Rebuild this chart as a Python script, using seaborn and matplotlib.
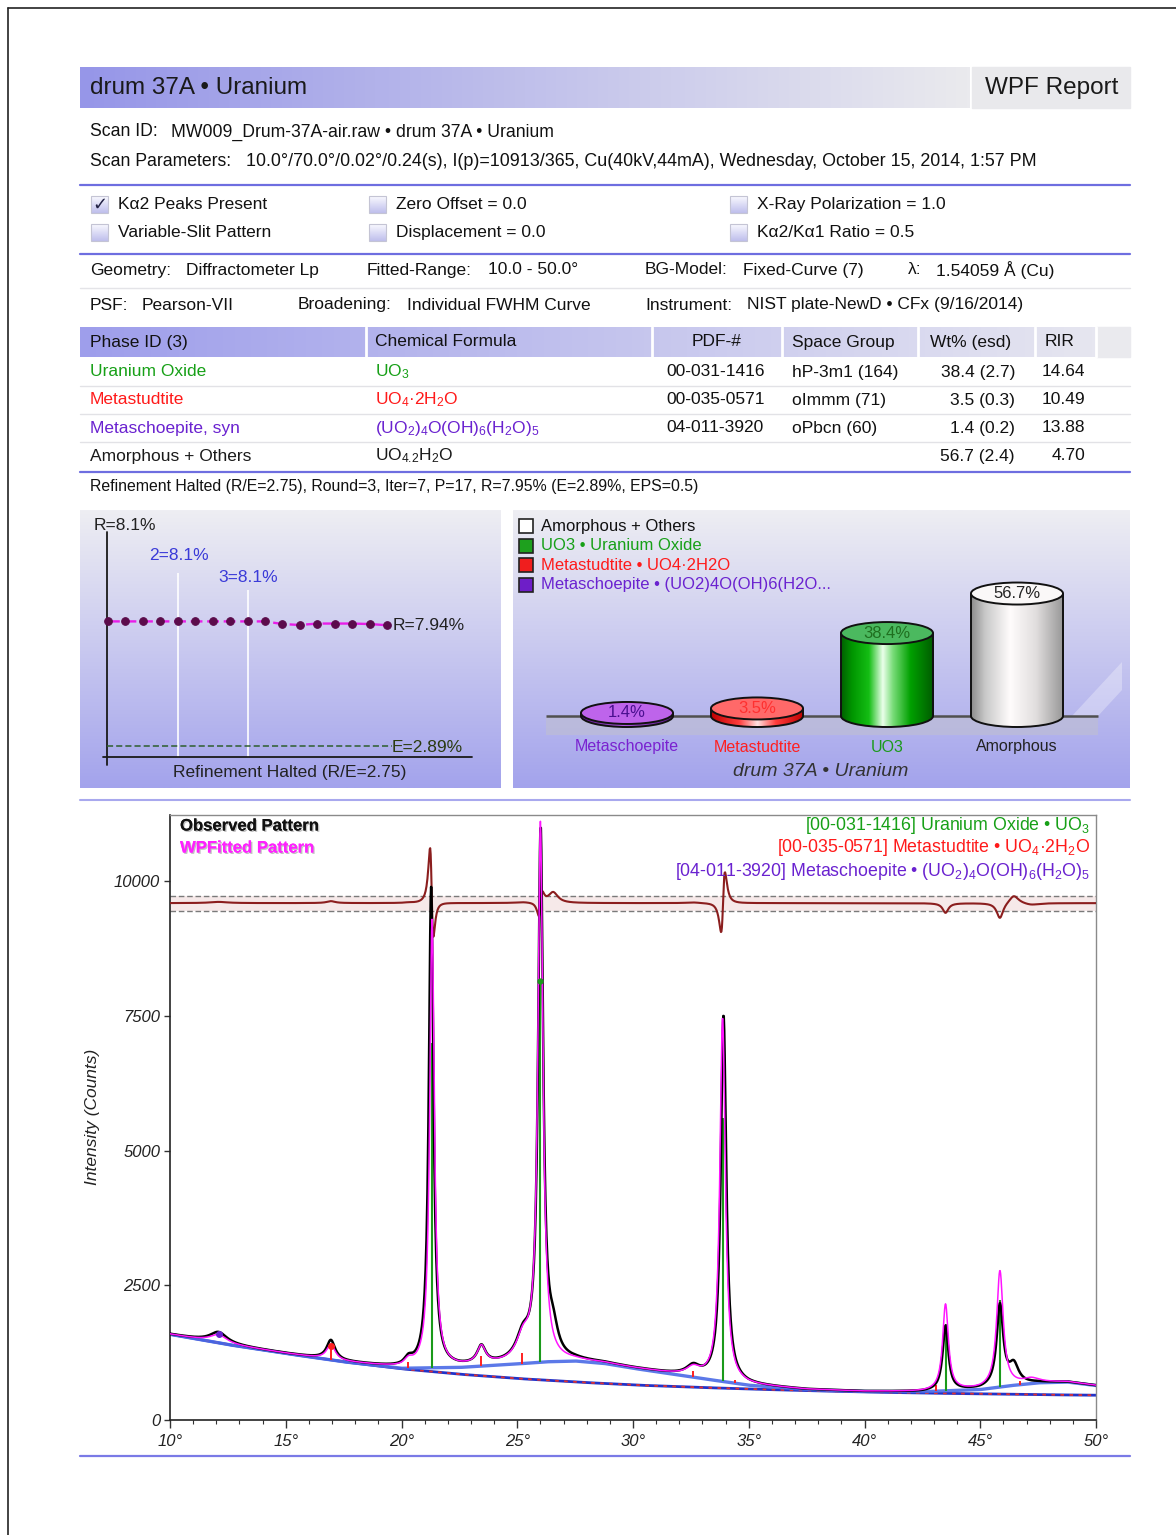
import numpy as np
import pandas as pd
import matplotlib
matplotlib.use("Agg")
import matplotlib.pyplot as plt
import seaborn as sns
from matplotlib.patches import Rectangle, Ellipse, Polygon
from matplotlib.ticker import MultipleLocator
import matplotlib.patheffects as pe

sns.set_theme(style="white")
plt.rcParams["font.family"] = ["Liberation Sans", "DejaVu Sans"]
plt.rcParams["mathtext.fontset"] = "custom"
plt.rcParams["mathtext.rm"] = "Liberation Sans"
plt.rcParams["mathtext.it"] = "Liberation Sans:italic"
plt.rcParams["mathtext.bf"] = "Liberation Sans:bold"
plt.rcParams["axes.unicode_minus"] = False

# ------------------------------------------------------------------ DATA
phase_names = ["Uranium Oxide", "Metastudtite", "Metaschoepite, syn", "Amorphous + Others"]
phase_formulas = [r"UO$_3$", r"UO$_4$·2H$_2$O", r"(UO$_2$)$_4$O(OH)$_6$(H$_2$O)$_5$", r"UO$_{4.2}$H$_2$O"]
pdf_numbers = ["00-031-1416", "00-035-0571", "04-011-3920", ""]
space_groups = ["hP-3m1 (164)", "oImmm (71)", "oPbcn (60)", ""]
wt_pct = ["38.4 (2.7)", "3.5 (0.3)", "1.4 (0.2)", "56.7 (2.4)"]
rir_values = ["14.64", "10.49", "13.88", "4.70"]
phase_colors = ["#17a017", "#ff1a1a", "#6a22d0", "#1a1a1a"]

# refinement convergence
iterations = [1, 2, 3, 4, 5, 6, 7, 8, 9, 10, 11, 12, 13, 14, 15, 16, 17]
r_values = [8.10, 8.10, 8.10, 8.10, 8.10, 8.10, 8.10, 8.10, 8.10, 8.10, 7.99, 7.95, 8.01, 8.01, 8.01, 7.99, 7.94]
round_iters = [5, 9]
round_labels = ["2=8.1%", "3=8.1%"]
e_value = 2.89

# phase wt% cylinders
bar_labels = ["Metaschoepite", "Metastudtite", "UO3", "Amorphous"]
bar_values = [1.4, 3.5, 38.4, 56.7]

# diffraction pattern
scan_step = 0.02
two_theta = np.round(np.arange(10.0, 50.0 + 1e-9, scan_step), 2)
knot_2theta = [10.0, 12.5, 15.0, 17.5, 20.0, 22.5, 25.0, 26.25, 27.5, 28.75, 30.0, 32.5, 35.0, 37.5, 40.0,
               42.5, 45.0, 46.25, 47.5, 48.75, 50.0]
bg_counts = [1590, 1400, 1235, 1080, 950, 850, 770, 738, 705, 678, 650, 610, 575, 545, 520,
             500, 485, 478, 470, 465, 460]
amorph_counts = [1590, 1400, 1235, 1080, 960, 975, 1040, 1080, 1095, 1050, 960, 800, 645, 565, 530,
                 525, 565, 635, 690, 705, 640]

fit_pos = [12.10, 16.95, 20.30, 21.32, 23.45, 25.25, 26.00, 32.60, 33.87, 43.50, 45.85, 47.20]
fit_height = [150, 280, 110, 8300, 330, 420, 9950, 150, 6750, 1600, 2150, 80]
fit_hwhm = [0.45, 0.22, 0.22, 0.12, 0.22, 0.35, 0.13, 0.35, 0.14, 0.15, 0.17, 0.40]

obs_pos = [12.10, 16.95, 20.30, 21.28, 23.45, 25.25, 26.01, 26.55, 32.60, 33.91, 43.50, 45.85, 46.45]
obs_height = [200, 360, 130, 8900, 330, 450, 9800, 450, 180, 6800, 1200, 1500, 350]
obs_hwhm = [0.45, 0.22, 0.22, 0.12, 0.22, 0.35, 0.13, 0.25, 0.35, 0.14, 0.15, 0.17, 0.25]

uo3_stick_pos = [21.32, 26.00, 33.87, 43.50, 45.85]
uo3_stick_top = [7000, 8150, 5600, 1780, 2230]
metast_stick_pos = [16.95, 20.30, 23.45, 25.20, 32.60, 34.40, 43.10, 46.70]
metast_stick_len = [260, 120, 190, 200, 110, 60, 110, 70]
metasch_stick_pos = [12.10]
metasch_stick_len = [160]

diff_offset = 9590
diff_scale = 0.45
diff_band = [9450, 9730]

y_ticks = [0, 2500, 5000, 7500, 10000]
y_tick_labels = ["0", "2500", "5000", "7500", "10000"]
x_ticks = [10, 15, 20, 25, 30, 35, 40, 45, 50]
x_tick_labels = ["10°", "15°", "20°", "25°", "30°", "35°", "40°", "45°", "50°"]


def lorentz_sum(x, pos, hgt, hw):
    out = np.zeros_like(x, dtype=float)
    for p, h, w in zip(pos, hgt, hw):
        out += h / (1.0 + ((x - p) / w) ** 2)
    return out


bg_line = np.interp(two_theta, knot_2theta, bg_counts)
amorph_line = np.interp(two_theta, knot_2theta, amorph_counts)
fit_total = amorph_line + lorentz_sum(two_theta, fit_pos, fit_height, fit_hwhm)
obs_total = amorph_line + lorentz_sum(two_theta, obs_pos, obs_height, obs_hwhm)
pattern = pd.DataFrame({
    "two_theta": two_theta,
    "observed": obs_total,
    "fitted": fit_total,
    "background": bg_line,
    "amorphous": amorph_line,
    "difference": (obs_total - fit_total) * diff_scale + diff_offset,
})

# ------------------------------------------------------------------ FIGURE
W, H = 1176, 1535
fig = plt.figure(figsize=(W / 100, H / 100), dpi=100)
fig.patch.set_facecolor("white")


def rect_px(x0, y0, x1, y1):
    return [x0 / W, 1 - y1 / H, (x1 - x0) / W, (y1 - y0) / H]


def grad_img(stops, n=256, vertical=False):
    t = np.linspace(0, 1, n)
    pos = [s[0] for s in stops]
    cols = np.array([s[1] for s in stops], float) / 255
    img = np.stack([np.interp(t, pos, cols[:, k]) for k in range(3)], axis=-1)
    return img[:, None, :] if vertical else img[None, :, :]


ax0 = fig.add_axes([0, 0, 1, 1], label="bg")
ax0.set_zorder(-10)
axT = fig.add_axes([0, 0, 1, 1], label="top")
axT.set_zorder(50)
for a in (ax0, axT):
    a.set_xlim(0, W)
    a.set_ylim(H, 0)
    a.axis("off")


def T(x, y, s, size=12.5, color="#111111", ha="left", va="center", **kw):
    return axT.text(x, y, s, fontsize=size, color=color, ha=ha, va=va, **kw)


# page frame
ax0.plot([8, W], [8, 8], color="#222222", lw=1.2)
ax0.plot([8, 8], [8, H], color="#222222", lw=1.2)

# header bar
ax0.imshow(grad_img([(0, (150, 150, 232)), (1, (234, 234, 238))]), extent=(80, 970, 108, 67),
           aspect="auto", zorder=1)
ax0.add_patch(Rectangle((972, 67), 158, 41, color=(233 / 255, 233 / 255, 236 / 255), zorder=1))
T(90, 88, "drum 37A • Uranium", size=17.5, color="#1a1a1a")
T(985, 88, "WPF Report", size=17.5, color="#1a1a1a")

T(90, 132, "Scan ID:", size=12.7)
T(171, 132, "MW009_Drum-37A-air.raw • drum 37A • Uranium", size=12.7)
T(90, 162, "Scan Parameters:", size=12.7)
T(246, 162, "10.0°/70.0°/0.02°/0.24(s), I(p)=10913/365, Cu(40kV,44mA), Wednesday, October 15, 2014, 1:57 PM",
  size=12.85)

# separator lines
for yy in (185, 254, 472):
    ax0.plot([80, 1130], [yy, yy], color="#6e6ee0", lw=1.6, zorder=2)
ax0.plot([80, 1130], [288, 288], color="#e4e4e8", lw=1.0, zorder=2)
ax0.plot([80, 1130], [800, 800], color="#a8a8ee", lw=1.5, zorder=2)
ax0.plot([80, 1130], [1456, 1456], color="#7a7ae6", lw=1.6, zorder=2)

# checkboxes
box_stops = [(0, (250, 250, 255)), (1, (190, 190, 236))]
checks = [(91, 196, True, "Kα2 Peaks Present"), (369, 196, False, "Zero Offset = 0.0"),
          (730, 196, False, "X-Ray Polarization = 1.0"), (91, 224, False, "Variable-Slit Pattern"),
          (369, 224, False, "Displacement = 0.0"), (730, 224, False, "Kα2/Kα1 Ratio = 0.5")]
for bx, by, chk, lab in checks:
    ax0.imshow(grad_img(box_stops, vertical=True), extent=(bx, bx + 17, by + 17, by), aspect="auto", zorder=3)
    ax0.add_patch(Rectangle((bx, by), 17, 17, fill=False, edgecolor="#c4c4d4", lw=0.8, zorder=4))
    if chk:
        T(bx + 8.5, by + 9, "✓", size=13, ha="center", family=["DejaVu Sans"], weight="bold", color="#222244")
    T(bx + 27, by + 8.5, lab, size=12.5)

# parameter rows
for lx, vx, lab, val in [(90, 186, "Geometry:", "Diffractometer Lp"), (367, 488, "Fitted-Range:", "10.0 - 50.0°"),
                         (645, 743, "BG-Model:", "Fixed-Curve (7)"), (908, 936, "λ:", "1.54059 Å (Cu)")]:
    T(lx, 270, lab)
    T(vx, 270, val)
for lx, vx, lab, val in [(90, 142, "PSF:", "Pearson-VII"), (298, 407, "Broadening:", "Individual FWHM Curve"),
                         (645, 747, "Instrument:", "NIST plate-NewD • CFx (9/16/2014)")]:
    T(lx, 305, lab)
    T(vx, 305, val)

# phase table
ax0.imshow(grad_img([(0, (158, 158, 235)), (1, (230, 230, 240))]), extent=(80, 1096, 357, 327),
           aspect="auto", zorder=1)
ax0.add_patch(Rectangle((1096, 327), 34, 30, color=(234 / 255, 234 / 255, 238 / 255), zorder=1))
for sx in (366, 652, 782, 918, 1035, 1096):
    ax0.plot([sx, sx], [327, 357], color="white", lw=2, zorder=2)
T(90, 342, "Phase ID (3)")
T(375, 342, "Chemical Formula")
T(717, 342, "PDF-#", ha="center")
T(792, 342, "Space Group")
T(930, 342, "Wt% (esd)")
T(1045, 342, "RIR")
row_y = [372, 400, 428, 456]
for i, ry in enumerate(row_y):
    T(90, ry, phase_names[i], color=phase_colors[i])
    T(375, ry, phase_formulas[i], color=phase_colors[i])
    T(666, ry, pdf_numbers[i])
    T(792, ry, space_groups[i])
    T(1015, ry, wt_pct[i], ha="right")
    T(1085, ry, rir_values[i], ha="right")
for sy in (386, 414, 442):
    ax0.plot([80, 1130], [sy, sy], color="#e2e2e6", lw=1.0, zorder=2)
T(90, 487, "Refinement Halted (R/E=2.75), Round=3, Iter=7, P=17, R=7.95% (E=2.89%, EPS=0.5)", size=11.4)

# ------------------------------------------------------------------ refinement panel
panel_stops = [(0, (238, 238, 243)), (1, (163, 163, 236))]
axr = fig.add_axes(rect_px(80, 510, 500, 788))
rxl = (1 + (80 - 108) / 17.44, 1 + (500 - 108) / 17.44)
ryl = (8.10 - (788 - 621.4) / 23.9, 8.10 + (621.4 - 510) / 23.9)
axr.imshow(grad_img(panel_stops, vertical=True), extent=(rxl[0], rxl[1], ryl[0], ryl[1]), aspect="auto", zorder=0)
axr.plot([0.94, 0.94], [2.09, 11.84], color="#1a1a1a", lw=1.3, zorder=2)
axr.plot([0.71, 21.9], [2.43, 2.43], color="#1a1a1a", lw=1.3, zorder=2)
for it, top in zip(round_iters, [10.125, 9.42]):
    axr.vlines(it, 2.43, top, colors="white", lw=1.2, zorder=1)
axr.hlines(e_value, 0.94, 17.28, colors="#2e5e2e", linestyles=(0, (4, 2)), lw=1.1, zorder=2)
sns.lineplot(x=iterations, y=r_values, ax=axr, color="#e81ee8", lw=1.7, linestyle=(0, (5, 2)),
             marker="o", markersize=5.5, markerfacecolor="#5b0b4b", markeredgecolor="#5b0b4b", zorder=3)
axr.set_xlim(*rxl)
axr.set_ylim(*ryl)
axr.axis("off")
T(94, 525, "R=8.1%", size=12.5, color="#222222")
T(149, 556, round_labels[0], size=12.5, color="#3a3ad8")
T(218, 577, round_labels[1], size=12.5, color="#3a3ad8")
T(393, 626, "R=7.94%", size=12.5, color="#222222")
T(392, 747, "E=2.89%", size=12.5, color="#2a3a10")
T(290, 773, "Refinement Halted (R/E=2.75)", size=12.5, ha="center", color="#222222")

# ------------------------------------------------------------------ cylinder panel
axb = fig.add_axes(rect_px(513, 510, 1130, 788))
bxl = ((513 - 627) / 130, (1130 - 627) / 130)
byl = (-(788 - 716) / 2.16, (716 - 510) / 2.16)
axb.imshow(grad_img(panel_stops, vertical=True), extent=(bxl[0], bxl[1], byl[0], byl[1]), aspect="auto", zorder=0)
sns.barplot(x=bar_labels, y=bar_values, ax=axb, width=0.708, color="white", saturation=1, errorbar=None, zorder=3)
bars = list(axb.patches)
axb.fill_between([-0.623, 3.623], -8.8, 0, color=(0.74, 0.74, 0.84), alpha=0.7, zorder=1, lw=0)
axb.add_patch(Polygon([[(1072 - 627) / 130, 0], [(1122 - 627) / 130, (716 - 662) / 2.16],
                       [(1122 - 627) / 130, (716 - 690) / 2.16], [(1098 - 627) / 130, 0]],
                      closed=True, color="white", alpha=0.3, zorder=1, lw=0))
axb.hlines(0, -0.623, 3.623, colors="#505050", lw=1.8, zorder=1.5)

body_stops = [
    [(0, (90, 20, 140)), (0.45, (175, 90, 225)), (1, (90, 20, 140))],
    [(0, (190, 0, 0)), (0.3, (255, 60, 60)), (0.5, (255, 225, 225)), (0.7, (255, 60, 60)), (1, (190, 0, 0))],
    [(0, (0, 95, 0)), (0.12, (0, 150, 0)), (0.3, (20, 190, 20)), (0.45, (235, 255, 235)), (0.56, (120, 220, 120)),
     (0.75, (0, 160, 0)), (1, (0, 90, 0))],
    [(0, (140, 140, 140)), (0.15, (200, 200, 200)), (0.42, (255, 252, 252)), (0.7, (225, 222, 222)),
     (1, (150, 150, 150))],
]
top_colors = [(190 / 255, 100 / 255, 235 / 255), (1.0, 105 / 255, 105 / 255), (75 / 255, 185 / 255, 95 / 255),
              (250 / 255, 248 / 255, 248 / 255)]
value_colors = ["#4a1090", "#ff3030", "#1f6f1f", "#222222"]
label_colors = ["#7a22d0", "#ff2020", "#1a9a1a", "#222222"]
eh = 22 / 2.16
for i, bar in enumerate(bars):
    xL, wB, h = bar.get_x(), bar.get_width(), bar.get_height()
    xc = xL + wB / 2
    bar.set_facecolor("none")
    bar.set_edgecolor("none")
    img = grad_img(body_stops[i])
    be = Ellipse((xc, 0), wB, eh, facecolor="none", edgecolor="#111111", lw=1.4, zorder=2.5)
    axb.add_patch(be)
    im1 = axb.imshow(img, extent=(xL, xL + wB, -eh / 2, max(h, 0.1)), aspect="auto", zorder=2)
    im1.set_clip_path(be)
    im2 = axb.imshow(img, extent=(xL, xL + wB, 0, max(h, 0.1)), aspect="auto", zorder=3)
    im2.set_clip_path(bar)
    axb.vlines([xL, xL + wB], 0, h, colors="#111111", lw=1.4, zorder=4)
    axb.add_patch(Ellipse((xc, h), wB, eh, facecolor=top_colors[i], edgecolor="#111111", lw=1.4, zorder=5))
    axb.text(xc, h, f"{bar_values[i]}%", ha="center", va="center", fontsize=12, color=value_colors[i], zorder=6)
    axb.text(xc, -(747 - 716) / 2.16, bar_labels[i], ha="center", va="center", fontsize=11.5,
             color=label_colors[i], zorder=6)
axb.set_xlim(*bxl)
axb.set_ylim(*byl)
axb.axis("off")
T(821, 772, "drum 37A • Uranium", size=14, ha="center", style="italic", color="#333333")

legend_items = [("Amorphous + Others", "white", "#111111"),
                ("UO3 • Uranium Oxide", (30 / 255, 160 / 255, 30 / 255), "#17a017"),
                ("Metastudtite • UO4·2H2O", (240 / 255, 30 / 255, 30 / 255), "#ff1a1a"),
                ("Metaschoepite • (UO2)4O(OH)6(H2O...", (110 / 255, 30 / 255, 200 / 255), "#6a22d0")]
for k, (lab, fc, tc) in enumerate(legend_items):
    cy = [526, 546, 565, 585][k]
    axT.add_patch(Rectangle((519, cy - 7), 14, 14, facecolor=fc, edgecolor="#222222", lw=1.2, zorder=5))
    T(541, cy, lab, size=12, color=tc)

# ------------------------------------------------------------------ main pattern
axm = fig.add_axes(rect_px(170, 815, 1096, 1420))
axm.set_facecolor("white")
axm.fill_between([10, 50], diff_band[0], diff_band[1], color="#f6e9e9", zorder=1, lw=0)
axm.hlines(diff_band, 10, 50, colors="#7a7a7a", linestyles=(0, (4, 2)), lw=1.0, zorder=2)
sns.lineplot(data=pattern, x="two_theta", y="difference", ax=axm, color="#8b1e1e", lw=1.5,
             estimator=None, sort=False, zorder=3)
sns.lineplot(data=pattern, x="two_theta", y="background", ax=axm, color="#2233c8", lw=2.0,
             estimator=None, sort=False, zorder=2)
axm.plot(pattern["two_theta"], pattern["background"], color="#e03030", lw=1.3, ls=(0, (2, 3)), zorder=2.2)
sns.lineplot(data=pattern, x="two_theta", y="amorphous", ax=axm, color="#4a6ae6", lw=2.4, alpha=0.9,
             estimator=None, sort=False, zorder=2.5)
uo3_base = np.interp(uo3_stick_pos, knot_2theta, amorph_counts)
axm.vlines(uo3_stick_pos, uo3_base, uo3_stick_top, colors="#1a9a1a", lw=1.5, zorder=3)
ms_base = np.interp(metast_stick_pos, knot_2theta, amorph_counts)
axm.vlines(metast_stick_pos, ms_base, ms_base + np.array(metast_stick_len), colors="#ff2020", lw=1.4, zorder=3)
axm.plot(metast_stick_pos[:1], (ms_base + np.array(metast_stick_len))[:1], "o", color="#ff2020", ms=4, zorder=6)
mh_base = np.interp(metasch_stick_pos, knot_2theta, amorph_counts)
axm.plot(metasch_stick_pos, mh_base + np.array(metasch_stick_len), "o", color="#6a22d0", ms=4, zorder=6)
sns.lineplot(data=pattern, x="two_theta", y="observed", ax=axm, color="black", lw=1.8,
             estimator=None, sort=False, zorder=4)
sns.lineplot(data=pattern, x="two_theta", y="fitted", ax=axm, color="#ff14ff", lw=1.1,
             estimator=None, sort=False, zorder=5)
axm.plot(uo3_stick_pos[1:2], uo3_stick_top[1:2], "o", color="#1a9a1a", ms=3.5, zorder=6)

axm.set_xlim(10, 50)
axm.set_ylim(0, 11225)
axm.set_xlabel("")
axm.set_ylabel("")
axm.set_xticks(x_ticks)
axm.set_xticklabels(x_tick_labels)
axm.xaxis.set_minor_locator(MultipleLocator(1))
axm.set_yticks(y_ticks)
axm.set_yticklabels(y_tick_labels)
axm.tick_params(axis="both", which="both", direction="out", bottom=True, left=True, colors="#333333",
                labelcolor="#222222", labelsize=12)
axm.tick_params(axis="x", which="major", length=6, width=1, pad=4)
axm.tick_params(axis="x", which="minor", length=3, width=0.8)
axm.tick_params(axis="y", which="major", length=4, width=1, pad=3)
for lab in axm.get_xticklabels() + axm.get_yticklabels():
    lab.set_fontstyle("italic")
for side, sp in axm.spines.items():
    sp.set_color("#8a8a8a" if side in ("top", "right") else "#222222")
    sp.set_linewidth(1.0 if side in ("top", "right") else 1.2)

T(92, 1117, "Intensity (Counts)", size=12.5, ha="center", rotation=90, style="italic", color="#222222")
shadow = [pe.withSimplePatchShadow(offset=(1, -1), shadow_rgbFace="#999999", alpha=0.6), pe.Normal()]
T(180, 826, "Observed Pattern", size=12, weight="bold", color="#111111", path_effects=shadow)
T(180, 848, "WPFitted Pattern", size=12, weight="bold", color="#ff22ff", path_effects=shadow)
T(1090, 826, r"[00-031-1416] Uranium Oxide • UO$_3$", size=12.8, ha="right", color="#17a017")
T(1090, 848, r"[00-035-0571] Metastudtite • UO$_4$·2H$_2$O", size=12.8, ha="right", color="#ff1a1a")
T(1090, 871, r"[04-011-3920] Metaschoepite • (UO$_2$)$_4$O(OH)$_6$(H$_2$O)$_5$", size=12.8, ha="right",
  color="#6a22d0")

fig.savefig("out.png", dpi=100, facecolor="white")
